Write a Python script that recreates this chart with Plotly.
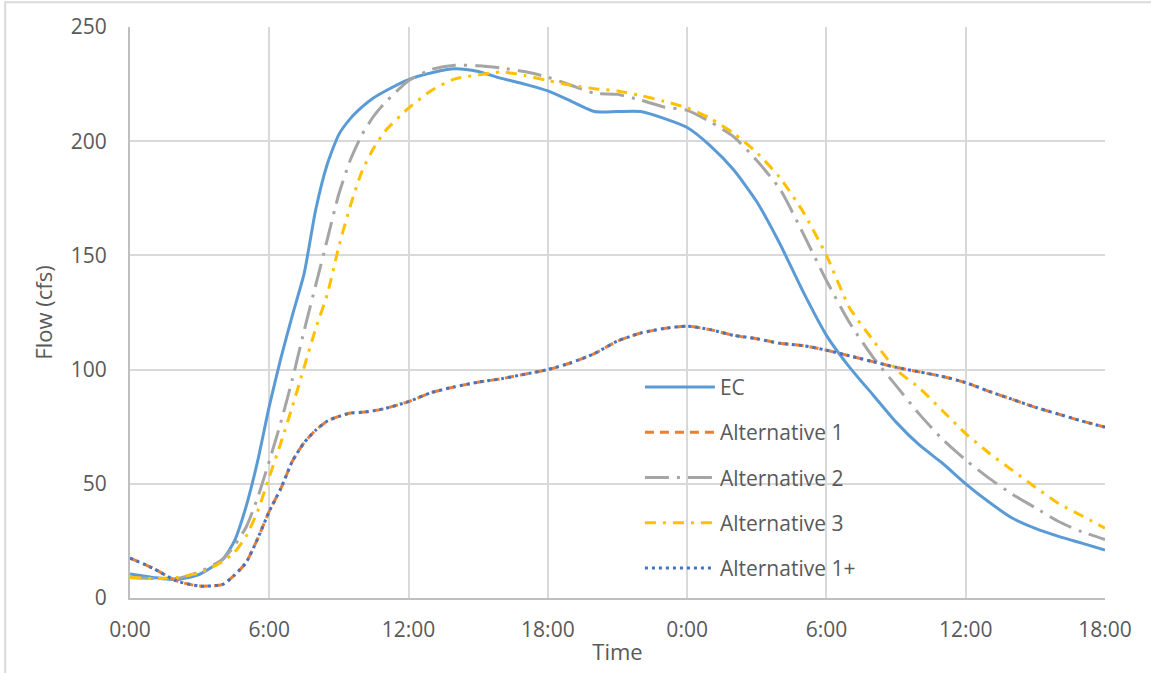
import plotly.graph_objects as go

# --- data ---
hours = [0, 1, 2, 3, 4, 4.5, 5, 5.5, 6, 6.5, 7, 7.5, 8, 8.5, 9, 9.5, 10, 10.5, 11,
         12, 13, 14, 15, 16, 17, 18, 19, 20, 21, 22, 23, 24, 25, 26, 27, 28, 29,
         30, 31, 32, 33, 34, 35, 36, 37, 38, 39, 40, 41, 42]

ec = [10.5, 9, 8, 10.4, 17, 25, 40, 60, 84, 105, 124, 142, 170, 190, 203, 210, 215, 219, 222,
      227, 230, 231.7, 230.5, 227.5, 225, 222, 217.5, 213, 213, 213, 210, 206, 198, 187.5, 173.5, 155, 134,
      115, 101, 89, 77, 67, 59, 50, 42, 35, 30.5, 27, 24, 21]

alt1 = [17.5, 13, 7.5, 5.2, 6, 10, 15.5, 26, 38, 48, 60, 68, 73.5, 77.5, 79.5, 81, 81.3, 82, 83,
        86, 90, 92.5, 94.5, 96, 98, 100, 103, 107, 112.5, 116, 118, 119, 117.5, 115, 113.5, 111.5, 110.5,
        108.5, 106, 103.5, 101, 99, 97, 94.3, 90.5, 87, 83.5, 80.5, 77.5, 74.8]

alt2 = [9, 8.5, 8.5, 11.5, 17, 23, 31, 44, 60, 77, 96, 117, 137, 157, 177, 192, 203, 211, 217,
        226.5, 231.5, 233.3, 233, 232, 230.5, 228, 224.5, 221, 220.5, 218, 215, 213.5, 208.5, 202, 191.5, 179, 159.5,
        139, 120.5, 105.5, 93, 80.5, 69.5, 60.4, 52.5, 45.5, 39.5, 33.5, 29, 25.6]

alt3 = [9, 8.5, 9, 11, 16, 20, 27, 38, 53, 68, 84, 101, 118, 133, 154, 172, 187, 197, 204.5,
        214.5, 222.3, 227.3, 229, 230.3, 228.8, 226.5, 224.5, 223, 222, 220, 217.5, 214.6, 210, 203.5, 195, 184, 169,
        150, 127, 113, 100, 92, 82, 72, 63.5, 56, 48.5, 41.4, 36, 30.6]

# Alternative 1+ sits right on top of Alternative 1
alt1_plus = list(alt1)

tick_hours = [0, 6, 12, 18, 24, 30, 36, 42]
tick_labels = ["0:00", "6:00", "12:00", "18:00", "0:00", "6:00", "12:00", "18:00"]

series = [
    ("EC", ec, "#5B9BD5", "solid"),
    ("Alternative 1", alt1, "#ED7D31", "9px,6px"),
    ("Alternative 2", alt2, "#A5A5A5", "24px,8px,3px,8px"),
    ("Alternative 3", alt3, "#FFC000", "11px,7px,3px,7px"),
    ("Alternative 1+", alt1_plus, "#4472C4", "3px,4px"),
]

fig = go.Figure()
for name, vals, color, dash in series:
    fig.add_trace(go.Scatter(
        x=hours, y=vals, mode="lines", name=name, legendgroup=name,
        line=dict(color=color, width=3, dash=dash, shape="spline", smoothing=0.6),
    ))

fig.update_layout(
    width=1151, height=673,
    margin=dict(l=130, r=46, t=27, b=71),
    plot_bgcolor="white", paper_bgcolor="white",
    font=dict(family="Open Sans", size=21, color="#595959"),
    legend=dict(x=0.523, y=0.405, xanchor="left", yanchor="top",
                bgcolor="rgba(0,0,0,0)", tracegroupgap=15, itemwidth=70,
                font=dict(size=21, color="#595959")),
    showlegend=True,
)

fig.update_xaxes(
    range=[0, 42], tickmode="array", tickvals=tick_hours, ticktext=tick_labels,
    showgrid=True, gridcolor="#D9D9D9", gridwidth=2,
    showline=True, linecolor="#BFBFBF", linewidth=2,
    zeroline=False, ticks="", ticklabelstandoff=12,
    title=dict(text="Time", standoff=2, font=dict(size=22)),
)
fig.update_yaxes(
    range=[0, 250], dtick=50,
    showgrid=True, gridcolor="#D9D9D9", gridwidth=2,
    showline=True, linecolor="#BFBFBF", linewidth=2,
    zeroline=False, ticks="", ticklabelstandoff=17,
    title=dict(text="Flow (cfs)", standoff=12, font=dict(size=22)),
)

# chart-area frame (cropped on the right and bottom in the reference)
fig.add_shape(type="rect", xref="paper", yref="paper",
              x0=-0.128, x1=1.1, y0=-0.3, y1=1.0435,
              line=dict(color="#D9D9D9", width=2), layer="below")

# drop the default page margin so the chart sits at the window's corner
fig.write_html("out.html", config={"displayModeBar": False},
               post_script="document.body.style.margin='0';")
